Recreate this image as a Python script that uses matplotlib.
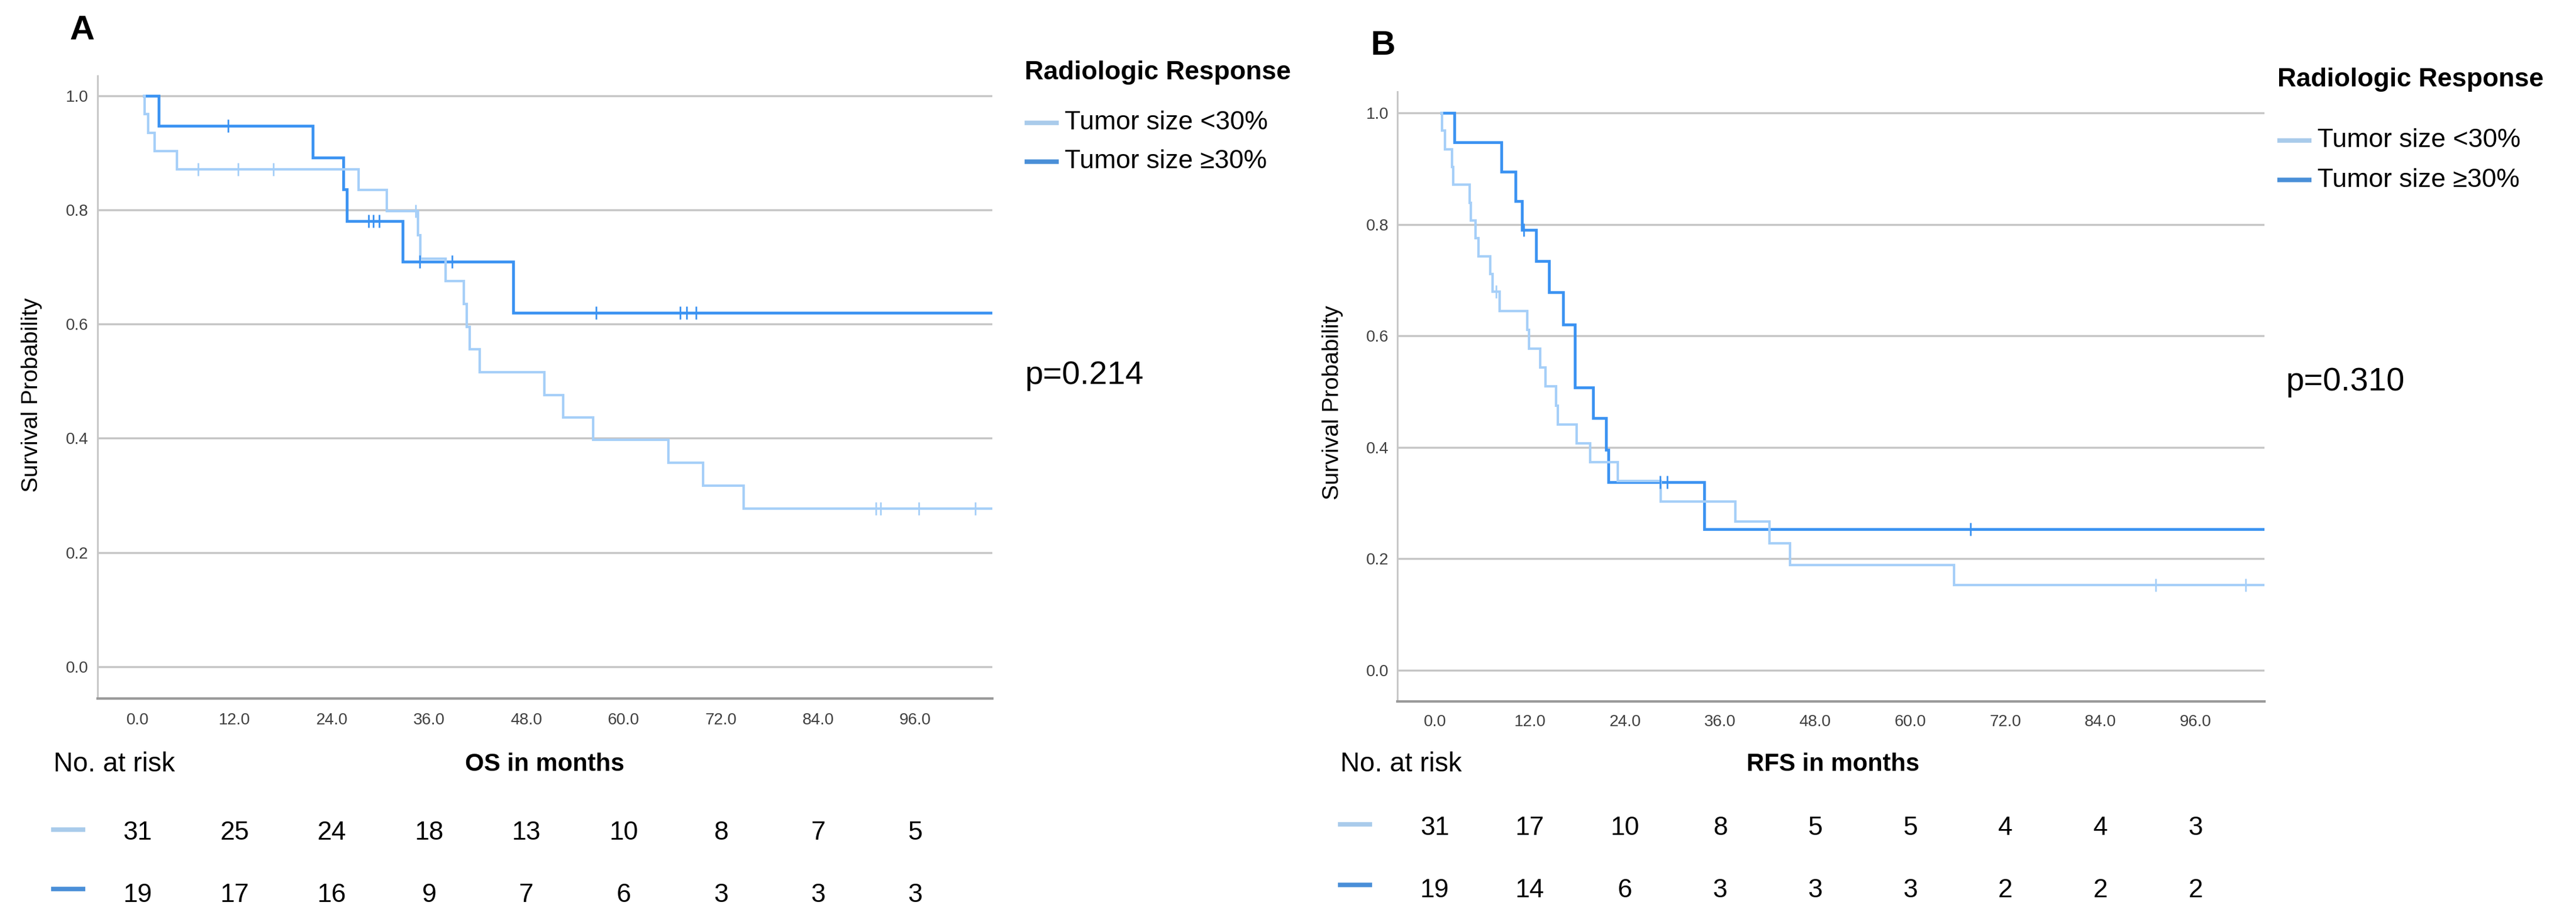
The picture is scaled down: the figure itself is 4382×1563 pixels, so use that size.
import matplotlib
matplotlib.use("Agg")
import matplotlib.pyplot as plt
from matplotlib.lines import Line2D
from matplotlib import transforms

plt.rcParams['font.family'] = ['Liberation Sans', 'DejaVu Sans']

W, H = 4382, 1563

# ---- data (months, survival probability) ----
group_labels = ['Tumor size <30%', 'Tumor size \u226530%']
x_ticks = [0, 12, 24, 36, 48, 60, 72, 84, 96]
y_ticks = [0.0, 0.2, 0.4, 0.6, 0.8, 1.0]

# Panel A: overall survival
os_lt30_times = [0.8, 0.85, 1.3, 2.1, 4.9, 27.3, 30.8, 34.6, 34.9, 38.0, 40.3, 40.6, 41.0,
                 42.2, 50.2, 52.5, 56.2, 65.5, 69.8, 74.8, 105.5]
os_lt30_surv = [1.0, 0.968, 0.935, 0.903, 0.871, 0.835, 0.798, 0.756, 0.715, 0.675, 0.635,
                0.595, 0.556, 0.516, 0.476, 0.436, 0.397, 0.357, 0.317, 0.277, 0.277]
os_lt30_censor = [7.45, 12.4, 16.8, 34.3, 91.1, 91.7, 96.4, 103.4]

os_ge30_times = [0.8, 2.6, 21.6, 25.4, 25.8, 32.7, 46.4, 105.5]
os_ge30_surv = [1.0, 0.947, 0.892, 0.836, 0.781, 0.709, 0.62, 0.62]
os_ge30_censor = [11.2, 28.5, 29.1, 29.8, 34.8, 38.8, 56.6, 67.0, 67.8, 68.9]

os_at_risk_lt30 = [31, 25, 24, 18, 13, 10, 8, 7, 5]
os_at_risk_ge30 = [19, 17, 16, 9, 7, 6, 3, 3, 3]
os_p_value = 'p=0.214'

# Panel B: recurrence-free survival
rfs_lt30_times = [0.84, 0.9, 1.25, 2.2, 2.3, 4.4, 4.55, 5.1, 5.5, 7.0, 7.3, 8.2, 11.7, 11.9,
                  13.3, 13.95, 15.3, 15.5, 17.9, 19.6, 23.1, 28.5, 37.9, 42.2, 44.8, 65.5, 104.7]
rfs_lt30_surv = [1.0, 0.968, 0.935, 0.903, 0.871, 0.839, 0.807, 0.775, 0.743, 0.711, 0.679,
                 0.645, 0.611, 0.577, 0.543, 0.509, 0.475, 0.441, 0.407, 0.373, 0.34, 0.303,
                 0.267, 0.228, 0.189, 0.153, 0.153]
rfs_lt30_censor = [7.7, 91.0, 102.3]

rfs_ge30_times = [0.84, 2.5, 8.4, 10.2, 11.0, 12.8, 14.4, 16.2, 17.7, 20.0, 21.6, 21.9, 34.0, 104.7]
rfs_ge30_surv = [1.0, 0.947, 0.895, 0.842, 0.79, 0.734, 0.678, 0.62, 0.507, 0.452, 0.395,
                 0.337, 0.253, 0.253]
rfs_ge30_censor = [11.2, 28.4, 29.3, 67.6]

rfs_at_risk_lt30 = [31, 17, 10, 8, 5, 5, 4, 4, 3]
rfs_at_risk_ge30 = [19, 14, 6, 3, 3, 3, 2, 2, 2]
rfs_p_value = 'p=0.310'

LIGHT = '#A6CFF8'
DARK = '#3A92F2'
LEG_LIGHT = '#A9CBEB'
LEG_DARK = '#4A8FD8'


def fx(px):
    return px / W


def fy(py):
    return 1 - py / H


def surv_at(times, surv, t):
    """Survival value of a step curve at time t (for placing censor ticks)."""
    val = surv[0]
    for ti, si in zip(times, surv):
        if ti <= t:
            val = si
    return val


def draw_panel(fig, rect, xlim, ylim, curves, tick_pad):
    ax = fig.add_axes(rect)
    ax.set_xlim(*xlim)
    ax.set_ylim(*ylim)
    for y in y_ticks:
        ax.axhline(y, color='#C6C6C6', lw=2.5, zorder=1)
    for times, surv, censor, color, lw in curves:
        ax.step(times, surv, where='post', color=color, lw=lw, zorder=3, solid_joinstyle='miter')
        ax.plot(censor, [surv_at(times, surv, c) for c in censor], ls='none', marker='|',
                ms=16, mew=2.0, color=color, zorder=4)
    ax.set_xticks(x_ticks)
    ax.set_xticklabels([f'{v:.1f}' for v in x_ticks])
    ax.set_yticks(y_ticks)
    ax.set_yticklabels([f'{v:.1f}' for v in y_ticks])
    ax.tick_params(axis='x', length=0, pad=tick_pad[0], labelsize=20, labelcolor='#404040')
    ax.tick_params(axis='y', length=0, pad=tick_pad[1], labelsize=20, labelcolor='#404040')
    for s in ['top', 'right']:
        ax.spines[s].set_visible(False)
    ax.spines['left'].set_color('#C8C8C8')
    ax.spines['left'].set_linewidth(2.2)
    ax.spines['bottom'].set_color('#9A9A9A')
    ax.spines['bottom'].set_linewidth(3.0)
    return ax


def fig_line(fig, x0, x1, y, color, lw):
    fig.add_artist(Line2D([fx(x0), fx(x1)], [fy(y), fy(y)], color=color, lw=lw,
                          solid_capstyle='butt', transform=fig.transFigure))


def annotate_panel(fig, ax, letter, letter_xy, ylabel_xy, legend, p_xy, p_text,
                   xlabel, xlabel_xy, risk_x, risk_rows, at_risk):
    fig.text(fx(letter_xy[0]), fy(letter_xy[1]), letter, fontsize=42, fontweight='bold',
             ha='left', va='center')
    fig.text(fx(ylabel_xy[0]), fy(ylabel_xy[1]), 'Survival Probability', fontsize=28,
             rotation=90, ha='center', va='center')

    # legend
    lx, title_y, row_y = legend
    fig.text(fx(lx), fy(title_y), 'Radiologic Response', fontsize=32, fontweight='bold',
             ha='left', va='center')
    for label, col, y in zip(group_labels, [LEG_LIGHT, LEG_DARK], row_y):
        fig_line(fig, lx, lx + 58, y, col, 5.5)
        fig.text(fx(lx + 68), fy(y), label, fontsize=32, ha='left', va='center')

    fig.text(fx(p_xy[0]), fy(p_xy[1]), p_text, fontsize=40, ha='left', va='center')

    # x label and number at risk table
    fig.text(fx(risk_x), fy(xlabel_xy[1]), 'No. at risk', fontsize=33, ha='left', va='center')
    fig.text(fx(xlabel_xy[0]), fy(xlabel_xy[1]), xlabel, fontsize=30, fontweight='bold',
             ha='center', va='center')
    trans = transforms.blended_transform_factory(ax.transData, fig.transFigure)
    for counts, col, (y_num, y_mark) in zip(at_risk, [LEG_LIGHT, LEG_DARK], risk_rows):
        fig_line(fig, risk_x - 4, risk_x + 54, y_mark, col, 5.5)
        for t, n in zip(x_ticks, counts):
            fig.text(t, fy(y_num), str(n), fontsize=32, ha='center', va='center',
                     transform=trans)


def main():
    fig = plt.figure(figsize=(W / 100, H / 100), dpi=100)

    # Panel A
    ax_a = draw_panel(
        fig,
        [fx(166), fy(1188), fx(1688) - fx(166), fy(129) - fy(1188)],
        (-4.93, 105.5), (-0.056, 1.035),
        [(os_ge30_times, os_ge30_surv, os_ge30_censor, DARK, 3.4),
         (os_lt30_times, os_lt30_surv, os_lt30_censor, LIGHT, 3.0)],
        (17, 11))
    annotate_panel(fig, ax_a, 'A', (119, 52), (54, 672),
                   (1743, 123, [209, 275]), (1743, 639), os_p_value,
                   'OS in months', (927, 1300), 91,
                   [(1416, 1411), (1522, 1512)],
                   [os_at_risk_lt30, os_at_risk_ge30])

    # Panel B
    ax_b = draw_panel(
        fig,
        [fx(2376.5), fy(1193), fx(3852) - fx(2376.5), fy(156) - fy(1193)],
        (-4.77, 104.7), (-0.056, 1.038),
        [(rfs_ge30_times, rfs_ge30_surv, rfs_ge30_censor, DARK, 3.4),
         (rfs_lt30_times, rfs_lt30_surv, rfs_lt30_censor, LIGHT, 3.0)],
        (16, 10))
    annotate_panel(fig, ax_b, 'B', (2331, 78), (2267, 685),
                   (3874, 136, [239, 306]), (3888, 650), rfs_p_value,
                   'RFS in months', (3118, 1300), 2280,
                   [(1409, 1402), (1515, 1505)],
                   [rfs_at_risk_lt30, rfs_at_risk_ge30])

    fig.savefig('out.png', dpi=100, facecolor='white')


if __name__ == "__main__":
    main()
